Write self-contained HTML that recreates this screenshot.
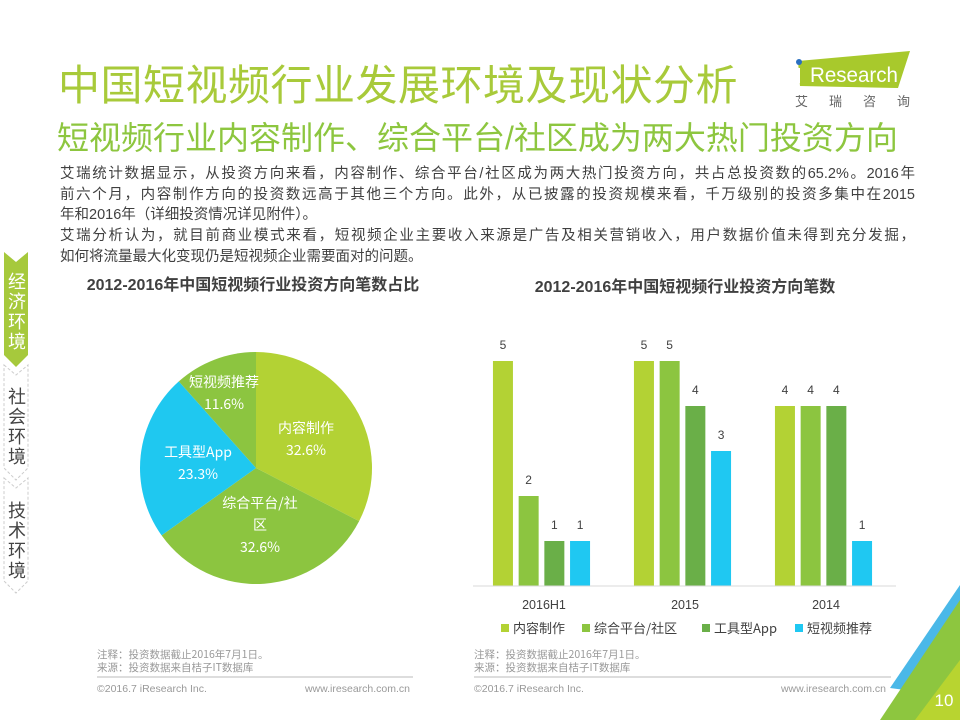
<!DOCTYPE html>
<html><head><meta charset="utf-8">
<style>
body{margin:0;width:960px;height:720px;overflow:hidden;background:#fff;font-family:"Liberation Sans","Noto Sans CJK SC",sans-serif;position:relative}
.abs{position:absolute}
.body div{white-space:nowrap;height:20.7px}
.body .j{text-align:justify;text-align-last:justify;white-space:normal;overflow:hidden}
</style></head><body>
<div class="abs" style="left:58px;top:52px;font-size:42px;color:#a8ca3a;white-space:nowrap;letter-spacing:0.5px">中国短视频行业发展环境及现状分析</div>
<div class="abs" style="left:57px;top:113px;font-size:32px;color:#8dc63f;white-space:nowrap">短视频行业内容制作、综合平台/社区成为两大热门投资方向</div>
<svg class="abs" style="left:780px;top:40px" width="150" height="80">
<polygon points="18,21 130,11 118,48 20,46" fill="#a8c92c"/>
<circle cx="19" cy="22" r="3" fill="#2a6fc0"/>
<text x="30" y="42" font-size="21" fill="#fff" font-family="Liberation Sans" textLength="88" lengthAdjust="spacingAndGlyphs">Research</text>
<rect x="17" y="28" width="3" height="15" fill="#fff"/>
<text x="15" y="66" font-size="13" fill="#666" letter-spacing="21" font-family="Noto Sans CJK SC">艾瑞咨询</text>
</svg>
<div class="abs body" style="left:60px;top:164px;width:855px;font-size:14.5px;line-height:20.7px;color:#404040">
<div class="j">艾瑞统计数据显示，从投资方向来看，内容制作、综合平台/社区成为两大热门投资方向，共占总投资数的65.2%。2016年</div>
<div class="j">前六个月，内容制作方向的投资数远高于其他三个方向。此外，从已披露的投资规模来看，千万级别的投资多集中在2015</div>
<div>年和2016年（详细投资情况详见附件）。</div>
<div class="j">艾瑞分析认为，就目前商业模式来看，短视频企业主要收入来源是广告及相关营销收入，用户数据价值未得到充分发掘，</div>
<div>如何将流量最大化变现仍是短视频企业需要面对的问题。</div>
</div>
<svg class="abs" style="left:0;top:240px" width="40" height="370">
<polygon points="4,12 16,22 28,12 28,115 16,127 4,115" fill="#a6c93c"/>
<polygon points="4,125 16,135 28,125 28,228 16,240 4,228" fill="none" stroke="#ccc" stroke-dasharray="3,2"/>
<polygon points="4,238 16,248 28,238 28,341 16,353 4,341" fill="none" stroke="#ccc" stroke-dasharray="3,2"/>
<g font-size="18" font-family="Noto Sans CJK SC" text-anchor="middle">
<text x="17" y="48" fill="#fff">经</text><text x="17" y="68" fill="#fff">济</text><text x="17" y="88" fill="#fff">环</text><text x="17" y="108" fill="#fff">境</text>
<text x="17" y="163" fill="#444">社</text><text x="17" y="183" fill="#444">会</text><text x="17" y="203" fill="#444">环</text><text x="17" y="223" fill="#444">境</text>
<text x="17" y="277" fill="#444">技</text><text x="17" y="297" fill="#444">术</text><text x="17" y="317" fill="#444">环</text><text x="17" y="337" fill="#444">境</text>
</g>
</svg>
<svg class="abs" style="left:0;top:0" width="960" height="720" id="charts">
<text x="253" y="290" text-anchor="middle" font-size="16" font-weight="bold" fill="#404040">2012-2016年中国短视频行业投资方向笔数占比</text>
<text x="685" y="292" text-anchor="middle" font-size="16" font-weight="bold" fill="#404040">2012-2016年中国短视频行业投资方向笔数</text>
<g id="pie"></g><g id="bars"></g>
<line x1="473" y1="586" x2="896" y2="586" stroke="#d9d9d9"/>
<g font-size="10.5" fill="#999" font-family="Noto Sans CJK SC">
<text x="97" y="658">注释：投资数据截止2016年7月1日。</text><text x="97" y="671">来源：投资数据来自桔子IT数据库</text>
<text x="474" y="658">注释：投资数据截止2016年7月1日。</text><text x="474" y="671">来源：投资数据来自桔子IT数据库</text>
</g>
<line x1="97" y1="677" x2="413" y2="677" stroke="#bbb"/><line x1="474" y1="677" x2="891" y2="677" stroke="#bbb"/>
<g font-size="10.5" fill="#999"><text x="97" y="692">©2016.7 iResearch Inc.</text><text x="410" y="692" text-anchor="end">www.iresearch.com.cn</text>
<text x="474" y="692">©2016.7 iResearch Inc.</text><text x="886" y="692" text-anchor="end">www.iresearch.com.cn</text></g>
<polygon points="960,585 960,690 905,690 890,688" fill="#4ab8e8"/>
<polygon points="960,600 960,720 880,720" fill="#8dc63f"/>
<polygon points="960,660 960,720 915,720" fill="#b8d430"/>
<text x="944" y="706" text-anchor="middle" font-size="17" fill="#fff">10</text>
</svg>
<script>
const pieLabels=["内容制作","综合平台/社区","工具型App","短视频推荐"];
const pieValues=[32.6,32.6,23.3,11.6];
const pieColors=["#b3d234","#8cc540","#1fc8f0","#8cc540"];
const years=["2016H1","2015","2014"];
const sContent=[5,5,4];
const sPlatform=[2,5,4];
const sTool=[1,4,4];
const sRec=[1,3,1];
const seriesNames=["内容制作","综合平台/社区","工具型App","短视频推荐"];
const barColors=["#b3d234","#8cc540","#6aaf48","#1fc8f2"];
const NS="http://www.w3.org/2000/svg";
function mk(t,a,p){const e=document.createElementNS(NS,t);for(const k in a)e.setAttribute(k,a[k]);p.appendChild(e);return e;}
const pie=document.getElementById('pie');
const cx=256,cy=468,R=116,tot=pieValues.reduce((a,b)=>a+b,0);
let ang=0;
const labelPos=[[306,433],[260,508],[198,457],[224,387]];
pieValues.forEach((v,i)=>{
 const a0=ang,a1=ang+v/tot*2*Math.PI;ang=a1;
 const x0=cx+R*Math.sin(a0),y0=cy-R*Math.cos(a0),x1=cx+R*Math.sin(a1),y1=cy-R*Math.cos(a1);
 const p=mk('path',{d:`M${cx},${cy}L${x0},${y0}A${R},${R} 0 ${a1-a0>Math.PI?1:0} 1 ${x1},${y1}Z`,fill:pieColors[i]},pie);
 
 
 const [lx,ly]=labelPos[i];
 const lines=i===1?["综合平台/社","区"]:[pieLabels[i]];
 lines.concat([v.toFixed(1)+"%"]).forEach((s,j)=>{
  const t=mk('text',{x:lx,y:ly+j*22,'text-anchor':'middle','font-size':14,fill:'#fff','font-family':'Noto Sans CJK SC'},pie);t.textContent=s;
  
  
 });
});
const bars=document.getElementById('bars');
const series=[sContent,sPlatform,sTool,sRec];
const base=586,unit=45,bw=20,step=25.7;
const gx=i=>544+i*141;
years.forEach((y,g)=>{
 series.forEach((s,k)=>{
  const x=gx(g)-2*step+k*step+(step-bw)/2-2.5, h=s[g]*unit;
  const r=mk('rect',{x:x,y:base-h,width:bw,height:h,fill:barColors[k]},bars);
  
  
  const t=mk('text',{x:x+bw/2,y:base-h-12,'text-anchor':'middle','font-size':12,fill:'#404040'},bars);t.textContent=s[g];
  
  
 });
 const t=mk('text',{x:gx(g),y:609,'text-anchor':'middle','font-size':12.5,fill:'#404040'},bars);t.textContent=y;
 
 
});
const lx=[501,582,702,795];
seriesNames.forEach((n,k)=>{
 const r=mk('rect',{x:lx[k],y:624,width:8,height:8,fill:barColors[k]},bars);
 
 
 const t=mk('text',{x:lx[k]+12,y:633,'font-size':13,fill:'#404040','font-family':'Noto Sans CJK SC'},bars);t.textContent=n;
 
 
});
</script>
</body></html>
